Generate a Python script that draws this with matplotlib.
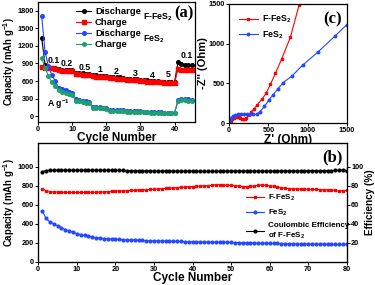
import numpy as np
import matplotlib.pyplot as plt
from matplotlib.lines import Line2D

plt.rcParams['font.family'] = ['Liberation Sans', 'DejaVu Sans']
plt.rcParams['font.weight'] = 'bold'
plt.rcParams['mathtext.fontset'] = 'custom'
plt.rcParams['mathtext.rm'] = 'Liberation Sans:bold'
plt.rcParams['mathtext.bf'] = 'Liberation Sans:bold'
plt.rcParams['mathtext.it'] = 'Liberation Sans:bold'
plt.rcParams['mathtext.default'] = 'bf'

# ---- panel (a): rate performance ----
cyc_a = np.arange(1, 46)
f_dis = [1340, 880, 845, 830, 820,
         800, 795, 790, 785, 780,
         740, 735, 730, 725, 720,
         700, 695, 690, 690, 685,
         670, 665, 660, 660, 655,
         640, 635, 630, 630, 625,
         615, 610, 605, 600, 600,
         590, 585, 585, 580, 580,
         920, 890, 880, 870, 865]
f_chg = [840, 830, 820, 815, 810,
         780, 775, 770, 770, 765,
         720, 715, 710, 705, 705,
         680, 675, 670, 670, 665,
         650, 645, 640, 640, 635,
         620, 615, 610, 610, 605,
         595, 590, 590, 585, 585,
         575, 570, 570, 565, 565,
         800, 795, 795, 790, 790]
p_dis = [1710, 1100, 850, 700, 600,
         480, 460, 440, 420, 400,
         300, 270, 260, 250, 240,
         160, 150, 150, 145, 140,
         110, 105, 100, 100, 100,
         85, 80, 80, 80, 80,
         75, 70, 70, 70, 70,
         65, 60, 60, 60, 60,
         270, 300, 290, 285, 280]
p_chg = [1000, 830, 680, 580, 520,
         440, 420, 400, 380, 360,
         260, 250, 240, 230, 220,
         145, 140, 140, 135, 130,
         95, 95, 90, 90, 90,
         75, 75, 70, 70, 70,
         65, 65, 60, 60, 60,
         55, 55, 55, 50, 50,
         250, 280, 270, 265, 260]
rate_labels = ['0.1', '0.2', '0.5', '1', '2', '3', '4', '5', '0.1']
rate_x = [4.5, 8.5, 13.5, 18, 23, 28.5, 33.5, 38, 43.5]
rate_y = [870, 820, 760, 720, 690, 650, 620, 640, 960]

# ---- panel (c): EIS ----
f_zr = [5, 20, 40, 60, 80, 100, 120, 140, 160, 180, 200, 220, 250, 280,
        320, 360, 420, 470, 525, 590, 670, 780, 890]
f_zi = [0, 30, 55, 68, 75, 76, 72, 64, 57, 53, 55, 70, 97, 140,
        182, 233, 305, 373, 487, 627, 809, 1080, 1483]
p_zr = [0, 10, 25, 50, 80, 110, 150, 190, 230, 270, 310, 350, 390, 450,
        505, 555, 620, 685, 800, 940, 1130, 1345, 1500]
p_zi = [0, 40, 70, 90, 105, 112, 118, 120, 120, 118, 112, 110, 140, 210,
        288, 352, 428, 508, 593, 733, 894, 1093, 1240]

# ---- panel (b): cycling ----
cyc_b = np.arange(1, 81)
f_cap = [770, 750, 740, 735, 735, 733, 732, 732, 731, 731,
         731, 732, 732, 733, 733, 735, 737, 740, 742, 745,
         746, 748, 750, 752, 754, 756, 758, 760, 762, 765,
         768, 770, 773, 776, 779, 782, 785, 788, 790, 792,
         795, 798, 800, 803, 806, 812, 810, 808, 806, 804,
         802, 798, 792, 792, 796, 800, 806, 810, 806, 800,
         795, 788, 780, 775, 772, 770, 768, 766, 765, 765,
         763, 762, 761, 760, 758, 755, 752, 745, 750, 752]
p_cap = [540, 460, 420, 400, 380, 360, 340, 325, 310, 298,
         288, 278, 270, 262, 255, 250, 246, 243, 240, 238,
         236, 234, 232, 230, 229, 228, 226, 224, 223, 222,
         221, 220, 219, 218, 217, 216, 215, 214, 213, 212,
         211, 210, 210, 209, 208, 207, 207, 206, 205, 205,
         204, 203, 202, 201, 200, 199, 198, 197, 196, 195,
         195, 194, 193, 193, 192, 192, 191, 190, 190, 189,
         189, 188, 188, 187, 186, 186, 185, 185, 184, 184]
ce = [95.0, 96.0, 96.5, 96.5, 96.6, 96.6, 96.6, 96.6, 96.6, 96.6,
      96.6, 96.5, 96.5, 96.5, 96.4, 96.4, 96.4, 96.3, 96.3, 96.2,
      96.2, 96.2, 96.1, 96.1, 96.0, 96.0, 96.0, 95.9, 95.8, 95.6,
      95.4, 95.5, 95.6, 95.5, 95.5, 95.4, 95.4, 95.3, 95.3, 95.3,
      95.3, 95.2, 95.2, 95.2, 95.2, 95.3, 95.4, 95.5, 95.5, 95.6,
      95.6, 95.6, 95.6, 95.6, 95.5, 95.5, 95.5, 95.5, 95.5, 95.5,
      95.6, 95.7, 95.8, 95.8, 95.8, 95.8, 95.9, 95.9, 96.0, 96.0,
      96.0, 96.0, 95.8, 96.1, 96.1, 96.1, 96.2, 96.2, 97.0, 96.0]

blue = '#2348ff'
green = '#1fa070'

fig = plt.figure(figsize=(3.75, 2.85), dpi=100)
ax_a = fig.add_axes([0.102, 0.572, 0.418, 0.421])
ax_c = fig.add_axes([0.611, 0.568, 0.314, 0.418])
ax_b = fig.add_axes([0.102, 0.081, 0.823, 0.417])

tick_kw = dict(labelsize=5.3, width=0.7, length=2, pad=1)
for ax in (ax_a, ax_b, ax_c):
    for s in ax.spines.values():
        s.set_linewidth(0.9)
    ax.tick_params(**tick_kw)

# (a)
ax_a.plot(cyc_a, f_dis, '-o', color='black', ms=2.6, lw=0.8, label='Discharge')
ax_a.plot(cyc_a, f_chg, '-s', color='red', ms=2.6, lw=0.8, label='Charge')
ax_a.plot(cyc_a, p_dis, '-o', color=blue, ms=2.6, lw=0.8, label='Discharge')
ax_a.plot(cyc_a, p_chg, '-o', color=green, ms=2.6, lw=0.8, label='Charge')
ax_a.set_xlim(0, 46)
ax_a.set_ylim(-100, 1950)
ax_a.set_xticks([0, 10, 20, 30, 40])
ax_a.set_yticks([0, 300, 600, 900, 1200, 1500, 1800])
ax_a.set_xlabel('Cycle Number', fontsize=8.5, fontweight='bold', labelpad=-0.5)
ax_a.set_ylabel('Capacity (mAh g$^{-1}$)', fontsize=6.9, fontweight='bold', labelpad=0.5)
for lab, x, y in zip(rate_labels, rate_x, rate_y):
    ax_a.text(x, y, lab, fontsize=6.3, fontweight='bold', ha='center', va='bottom')
ax_a.text(6, 150, 'A g$^{-1}$', fontsize=6.3, fontweight='bold', ha='center')
ax_a.legend(loc='upper left', bbox_to_anchor=(0.2, 1.01), frameon=False,
            fontsize=6.8, handlelength=1.6, labelspacing=0.2, handletextpad=0.4,
            borderpad=0.2)
ax_a.text(0.67, 0.85, 'F-FeS$_2$', transform=ax_a.transAxes, fontsize=6.3, fontweight='bold')
ax_a.text(0.67, 0.67, 'FeS$_2$', transform=ax_a.transAxes, fontsize=6.3, fontweight='bold')
ax_a.text(0.99, 0.97, '(a)', transform=ax_a.transAxes, fontsize=12, fontweight='bold',
          family='Liberation Serif', ha='right', va='top')

# (c)
ax_c.plot(f_zr, f_zi, '-s', color='red', ms=1.8, lw=0.8, label='F-FeS$_2$')
ax_c.plot(p_zr, p_zi, '-o', color=blue, ms=1.8, lw=0.8, label='FeS$_2$')
ax_c.set_xlim(0, 1500)
ax_c.set_ylim(0, 1500)
ax_c.set_xticks([0, 500, 1000, 1500])
ax_c.set_yticks([0, 500, 1000, 1500])
ax_c.set_xlabel("Z' (Ohm)", fontsize=8.5, fontweight='bold', labelpad=-0.5)
ax_c.set_ylabel("-Z'' (Ohm)", fontsize=8, fontweight='bold', labelpad=0.5)
ax_c.legend(loc='upper left', frameon=False, fontsize=6.3, handlelength=2.2,
            labelspacing=0.5, handletextpad=0.4, borderpad=0.6)
ax_c.text(0.96, 0.94, '(c)', transform=ax_c.transAxes, fontsize=12, fontweight='bold',
          family='Liberation Serif', ha='right', va='top')

# (b)
ax_b.plot(cyc_b, f_cap, '-s', color='red', ms=2, lw=0.8, label='F-FeS$_2$')
ax_b.plot(cyc_b, p_cap, '-o', color=blue, ms=2, lw=0.8, label='FeS$_2$')
ax_b.set_xlim(0, 80)
ax_b.set_ylim(0, 1250)
ax_b.set_xticks(np.arange(0, 81, 10))
ax_b.set_yticks([0, 200, 400, 600, 800, 1000])
ax_b.set_xlabel('Cycle Number', fontsize=8.5, fontweight='bold', labelpad=-0.5)
ax_b.set_ylabel('Capacity (mAh g$^{-1}$)', fontsize=6.9, fontweight='bold', labelpad=0.5)
ax_r = ax_b.twinx()
ax_r.plot(cyc_b, ce, '-o', color='black', ms=2, lw=0.8)
ax_r.set_ylim(0, 125)
ax_r.set_yticks([20, 40, 60, 80, 100])
ax_r.tick_params(**tick_kw)
ax_r.set_ylabel('Efficiency (%)', fontsize=7.2, fontweight='bold', labelpad=1)
handles = [Line2D([], [], color='red', marker='s', ms=2, lw=0.8),
           Line2D([], [], color=blue, marker='o', ms=2, lw=0.8),
           Line2D([], [], color='black', marker='o', ms=2, lw=0.8)]
ax_b.legend(handles, ['F-FeS$_2$', 'FeS$_2$', 'Coulombic Efficiency\nof F-FeS$_2$'],
            loc='upper left', bbox_to_anchor=(0.65, 0.64), frameon=False,
            fontsize=5.8, handlelength=2.2, labelspacing=0.55, handletextpad=0.5)
ax_b.text(0.985, 0.95, '(b)', transform=ax_b.transAxes, fontsize=12, fontweight='bold',
          family='Liberation Serif', ha='right', va='top')

fig.savefig('out.png', dpi=100)
